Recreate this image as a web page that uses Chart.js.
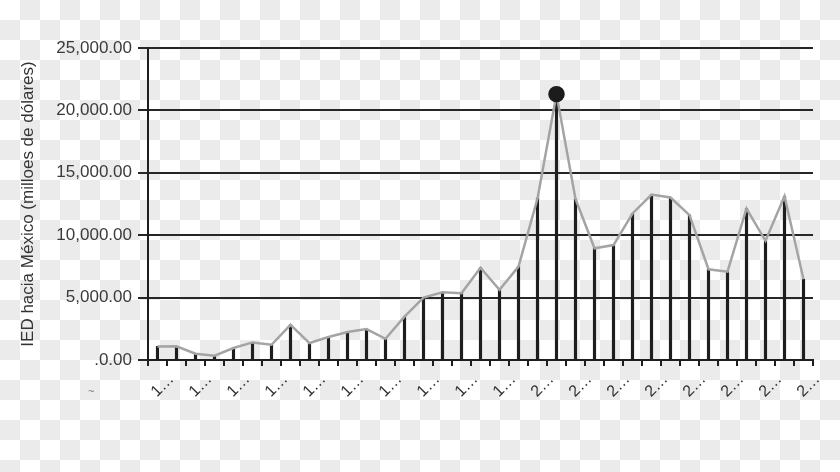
<!DOCTYPE html>
<html>
<head>
<meta charset="utf-8">
<script src="https://cdn.jsdelivr.net/npm/chart.js@4"></script>
<style>
body {
	margin: 0;
	background: repeating-conic-gradient(#ebebeb 0 25%, #ffffff 0 50%) 0 0 / 40px 40px;
}
#wrap {
	position: relative;
	width: 840px;
	height: 472px;
}
#mark {
	position: absolute;
	left: 88px;
	top: 385px;
	font: 11px "Liberation Sans", Arial, sans-serif;
	color: #777;
}
</style>
</head>
<body>
<div id="wrap">
	<canvas id="chart"></canvas>
	<div id="mark">~</div>
</div>
<script>
const years = ["1980", "1981", "1982", "1983", "1984", "1985", "1986", "1987", "1988", "1989",
	"1990", "1991", "1992", "1993", "1994", "1995", "1996", "1997", "1998", "1999",
	"2000", "2001", "2002", "2003", "2004", "2005", "2006", "2007", "2008", "2009",
	"2010", "2011", "2012", "2013", "2014"]

// IED hacia Mexico, millones de dolares
const ied = [1090, 1100, 500, 350, 960, 1410, 1220, 2820, 1360, 1840,
	2240, 2480, 1700, 3480, 5000, 5430, 5350, 7400, 5620, 7480,
	12940, 21300, 12900, 8950, 9210, 11740, 13260, 13020, 11610, 7270,
	7080, 12140, 9550, 13120, 6470]

const yTicks = [0, 5000, 10000, 15000, 20000, 25000]
const peakIndex = 21

const font = "'Liberation Sans', Arial, sans-serif"

let chart = new Chart(document.getElementById("chart"), {
	type: 'bar',
	data: {
		labels: years,
		datasets: [{
			type: 'line',
			label: 'IED',
			data: ied,
			borderColor: '#a4a4a4',
			borderWidth: 2.5,
			tension: 0,
			pointRadius: ctx => ctx.dataIndex === peakIndex ? 7 : 0,
			pointBackgroundColor: '#1c1c1c',
			pointBorderColor: '#1c1c1c',
			order: 1,
		}, {
			type: 'bar',
			label: 'IED barras',
			data: ied,
			backgroundColor: '#1e1e1e',
			barThickness: 2.5,
			order: 2,
		}],
	},
	options: {
		animation: false,
		responsive: true,
		maintainAspectRatio: false,
		layout: {
			padding: { left: 0, right: 27, top: 48, bottom: 0 },
		},
		plugins: {
			legend: { display: false },
			tooltip: { enabled: false },
		},
		scales: {
			x: {
				afterFit: scale => { scale.height = 112 },
				border: { color: '#1e1e1e', width: 2 },
				grid: {
					drawOnChartArea: false,
					color: '#1e1e1e',
					lineWidth: 2,
					tickLength: 6,
				},
				ticks: {
					autoSkip: false,
					minRotation: 45,
					maxRotation: 45,
					labelOffset: 14,
					padding: 4,
					color: '#2e2e2e',
					font: { family: font, size: 16 },
					callback: function(value, i) {
						if (i % 2) return ''
						return years[i].charAt(0) + '…'
					},
				},
			},
			y: {
				min: 0,
				max: 25000,
				afterFit: scale => { scale.width = 148 },
				afterBuildTicks: scale => { scale.ticks = yTicks.map(v => ({ value: v })) },
				border: { color: '#1e1e1e', width: 2 },
				grid: {
					color: '#262626',
					lineWidth: 2,
					tickLength: 10,
				},
				ticks: {
					padding: 6,
					color: '#3a3a3a',
					font: { family: font, size: 17 },
					callback: function(value) {
						if (value === 0) return '.0.00'
						return value.toLocaleString('en-US', { minimumFractionDigits: 2 })
					},
				},
				title: {
					display: true,
					text: 'IED hacia México (milloes de dólares)',
					color: '#333',
					font: { family: font, size: 17 },
					padding: { top: 18, bottom: 0 },
				},
			},
		},
	},
});
</script>
</body>
</html>
